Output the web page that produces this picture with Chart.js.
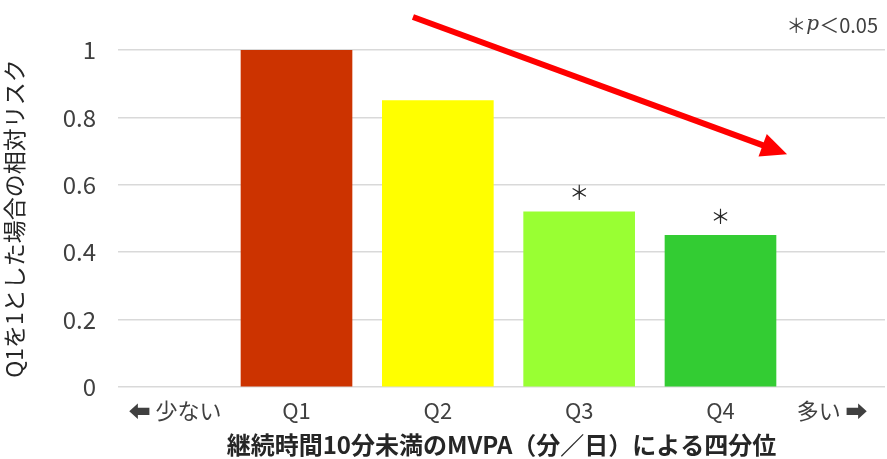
<!DOCTYPE html>
<html>
<head>
<meta charset="utf-8">
<script src="https://cdn.jsdelivr.net/npm/chart.js@4/dist/chart.umd.min.js"></script>
<style>
html,body{margin:0;padding:0;background:#fff;}
canvas{display:block;}
</style>
</head>
<body>
<canvas id="c" width="887" height="459"></canvas>
<script>
// ---- data ----
const categories = ['Q1', 'Q2', 'Q3', 'Q4'];
const relativeRisk = [1.0, 0.85, 0.52, 0.45];
const significant = [false, false, true, true];
const barColors = ['#CC3300', '#FFFF00', '#99FF33', '#33CC33'];
const tickLabels = ['⬅ 少ない', 'Q1', 'Q2', 'Q3', 'Q4', '多い ➡'];
const yTicks = [0, 0.2, 0.4, 0.6, 0.8, 1];
const yTitle = 'Q1を1とした場合の相対リスク';
const xTitle = '継続時間10分未満のMVPA（分／日）による四分位';
const noteText = ['＊', 'p', '＜0.05'];

// ---- layout (in axis units) ----
const xPositions = categories.map((c, i) => i + 1);
const tickPositions = [0.14, 1, 2, 3, 4, 4.79];
const trendArrow = { x0: 1.824, y0: 1.098, x1: 4.471, y1: 0.691 };

const FONT = '"Noto Sans CJK JP", "Noto Sans", sans-serif';

const overlay = {
  id: 'overlay',
  afterDraw(chart) {
    const ctx = chart.ctx;
    const xs = chart.scales.x, ys = chart.scales.y;
    ctx.save();
    // asterisks
    ctx.fillStyle = '#262626';
    ctx.font = '20px ' + FONT;
    ctx.textAlign = 'center';
    ctx.textBaseline = 'middle';
    const meta = chart.getDatasetMeta(0);
    meta.data.forEach((bar, i) => {
      if (significant[i]) ctx.fillText('＊', bar.x, bar.y - 19);
    });
    // note
    ctx.textBaseline = 'middle';
    ctx.textAlign = 'left';
    ctx.fillStyle = '#404040';
    ctx.font = '20px ' + FONT;
    const w0 = ctx.measureText(noteText[0]).width;
    ctx.font = 'italic 20px "DejaVu Serif", serif';
    const w1 = ctx.measureText(noteText[1]).width;
    ctx.font = '20px ' + FONT;
    const w2 = ctx.measureText(noteText[2]).width;
    let nx = 878 - (w0 + w1 + w2);
    const ny = 25;
    ctx.fillText(noteText[0], nx, ny); nx += w0;
    ctx.font = 'italic 20px "DejaVu Serif", serif';
    ctx.fillText(noteText[1], nx, ny); nx += w1;
    ctx.font = '20px ' + FONT;
    ctx.fillText(noteText[2], nx, ny);
    // trend arrow
    const ax0 = xs.getPixelForValue(trendArrow.x0), ay0 = ys.getPixelForValue(trendArrow.y0);
    const ax1 = xs.getPixelForValue(trendArrow.x1), ay1 = ys.getPixelForValue(trendArrow.y1);
    const ang = Math.atan2(ay1 - ay0, ax1 - ax0);
    const headLen = 26, headW = 12;
    const bx = ax1 - headLen * Math.cos(ang), by = ay1 - headLen * Math.sin(ang);
    ctx.strokeStyle = '#FF0000';
    ctx.fillStyle = '#FF0000';
    ctx.lineWidth = 6;
    ctx.lineCap = 'butt';
    ctx.beginPath();
    ctx.moveTo(ax0, ay0);
    ctx.lineTo(bx + 2 * Math.cos(ang), by + 2 * Math.sin(ang));
    ctx.stroke();
    ctx.beginPath();
    ctx.moveTo(ax1, ay1);
    ctx.lineTo(bx + headW * Math.sin(ang), by - headW * Math.cos(ang));
    ctx.lineTo(bx - headW * Math.sin(ang), by + headW * Math.cos(ang));
    ctx.closePath();
    ctx.fill();
    ctx.restore();
  }
};

new Chart(document.getElementById('c'), {
  type: 'bar',
  data: {
    datasets: [{
      data: xPositions.map((x, i) => ({ x: x, y: relativeRisk[i] })),
      backgroundColor: barColors,
      borderWidth: 0,
      barThickness: 111
    }]
  },
  options: {
    responsive: false,
    animation: false,
    events: [],
    layout: { padding: { top: 50, right: 2, left: 0, bottom: 0 } },
    plugins: { legend: { display: false }, tooltip: { enabled: false } },
    scales: {
      x: {
        type: 'linear',
        offset: false,
        min: -0.263,
        max: 5.164,
        grid: { display: false, drawTicks: false, offset: false },
        border: { display: false },
        afterBuildTicks(axis) { axis.ticks = tickPositions.map(v => ({ value: v })); },
        afterFit(axis) { axis.height = 72; },
        ticks: {
          autoSkip: false,
          maxRotation: 0,
          padding: 10,
          color: '#404040',
          font: { family: FONT, size: 22 },
          callback: (v, i) => tickLabels[i]
        },
        title: {
          display: true,
          text: xTitle,
          color: '#262626',
          font: { family: FONT, size: 24, weight: 'bold' },
          padding: { top: 0, bottom: 0 }
        }
      },
      y: {
        min: 0,
        max: 1,
        afterBuildTicks(axis) { axis.ticks = yTicks.map(v => ({ value: v })); },
        afterFit(axis) { axis.width = 118; },
        grid: { color: '#d9d9d9', lineWidth: 1.5, drawTicks: false },
        border: { display: false },
        ticks: {
          padding: 22,
          color: '#404040',
          font: { family: FONT, size: 24 },
          callback: v => String(v)
        },
        title: {
          display: true,
          text: yTitle,
          color: '#262626',
          font: { family: FONT, size: 23 },
          padding: { top: 0, bottom: 0 }
        }
      }
    }
  },
  plugins: [overlay]
});
</script>
</body>
</html>
